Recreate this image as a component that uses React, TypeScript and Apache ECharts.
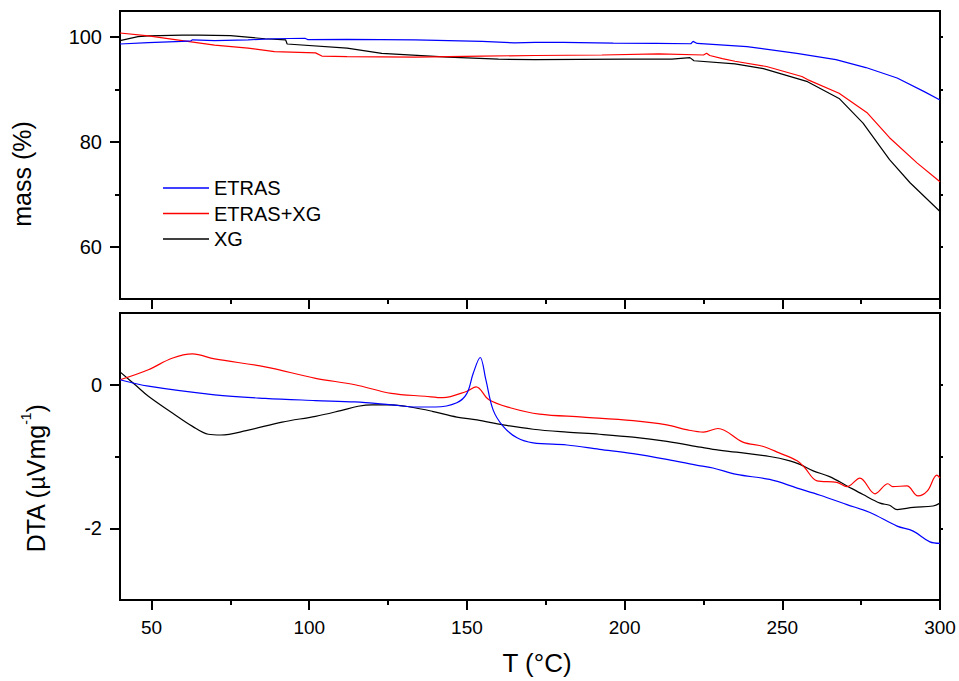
import React, { useEffect, useRef } from "react";
import * as echarts from "echarts";

// ---- tick values ----
const tempTicks = [50, 100, 150, 200, 250, 300];
const tempMinorTicks = [75, 125, 175, 225, 275];
const massTicks = [60, 80, 100];
const massMinorTicks = [70, 90];
const massRightTicks = [60, 70, 80, 90, 100];
const dtaTicks = [-2, 0];
const dtaMinorTicks = [-1];
const dtaRightTicks = [-2, -1, 0];

// ---- series names ----
const seriesNames = ["ETRAS", "ETRAS+XG", "XG"];
const seriesColors = ["#0000ff", "#ff0000", "#000000"];

// ---- mass (%) vs T (°C) ----
const etrasMass: [number, number][] = [
  [40, 98.7], [49, 98.97], [59.7, 99.2], [62.5, 99.3], [63, 99.5], [70, 99.35], [80.6, 99.5],
  [89, 99.7], [98.6, 99.8], [99.5, 99.55], [112, 99.6], [133.5, 99.5], [154.8, 99.2],
  [165.2, 98.9], [171.6, 99.0], [180.5, 99.0], [196.4, 98.85], [210, 98.8], [221, 98.75],
  [221.7, 99.2], [223, 98.8], [238.8, 98.2], [254.6, 96.9], [267, 95.7], [276.5, 94.2],
  [286.4, 92.2], [295, 89.6], [300, 88.0],
];
const etrasXgMass: [number, number][] = [
  [40, 100.8], [49, 100.25], [59.7, 99.35], [70, 98.5], [80.6, 97.9], [89, 97.25],
  [102, 97.0], [104, 96.4], [112, 96.3], [133.5, 96.2], [154.8, 96.4], [171.6, 96.5],
  [192.8, 96.6], [210.8, 96.8], [225, 96.6], [226, 96.95], [227, 96.5], [231, 95.9],
  [235, 95.4], [245, 94.4], [256.2, 92.5], [258, 91.9], [268, 89.3], [277, 85.5],
  [284, 80.8], [292.7, 76.0], [300, 72.4],
];
const xgMass: [number, number][] = [
  [40, 99.35], [45.7, 100.1], [49, 100.25], [59.7, 100.4], [65, 100.4], [75, 100.3],
  [86, 99.7], [92.5, 99.5], [93, 98.7], [112, 97.9], [123, 96.9], [144, 96.2], [160, 95.8],
  [171.6, 95.7], [200, 95.8], [215, 95.8], [220.7, 96.1], [222, 95.5], [235, 94.9],
  [244, 94.0], [258, 91.5], [268, 88.3], [275.6, 83.6], [284, 76.6], [290.5, 72.2],
  [300, 66.7],
];

// ---- DTA (µV/mg) vs T (°C) ----
const etrasDta: [number, number][] = [
  [40, 0.07], [49, -0.02], [70, -0.14], [86, -0.19], [102, -0.22], [114.5, -0.24],
  [126, -0.28], [134, -0.31], [140, -0.31], [146.8, -0.25], [150, -0.12], [152, 0.16],
  [154.2, 0.38], [156, 0.07], [158.3, -0.35], [161.5, -0.58], [165.9, -0.74], [171, -0.81],
  [181.7, -0.84], [192, -0.9], [202.7, -0.96], [213.4, -1.04], [224, -1.13], [228, -1.16],
  [235.5, -1.25], [246, -1.32], [254.7, -1.44], [262, -1.54], [270.5, -1.67], [277.8, -1.78],
  [286.4, -1.97], [291.5, -2.04], [296.8, -2.19], [300, -2.21],
];
const etrasXgDta: [number, number][] = [
  [40, 0.07], [49, 0.21], [56.5, 0.37], [63, 0.43], [70, 0.36], [86, 0.25], [102, 0.09],
  [114.5, 0.0], [126, -0.12], [136.7, -0.16], [142.4, -0.18], [150, -0.09], [152.9, -0.03],
  [157, -0.21], [163.7, -0.32], [173, -0.41], [186.8, -0.45], [202.7, -0.5], [213.4, -0.56],
  [220, -0.63], [225, -0.66], [229.6, -0.61], [237.5, -0.8], [244, -0.86], [249, -0.95],
  [254.7, -1.06], [257, -1.15], [261, -1.34], [267.3, -1.36], [270.5, -1.42], [274.6, -1.3],
  [279.4, -1.52], [283.5, -1.38], [285, -1.42], [289.5, -1.41], [293, -1.55], [296, -1.48],
  [299, -1.26], [300, -1.3],
];
const xgDta: [number, number][] = [
  [40, 0.18], [44.8, 0.0], [49, -0.16], [56.5, -0.39], [63, -0.58], [68, -0.69], [72, -0.7],
  [80, -0.64], [91.4, -0.52], [102, -0.44], [110, -0.36], [115.5, -0.3], [120, -0.28],
  [126, -0.28], [132, -0.31], [139, -0.37], [146.8, -0.45], [153.2, -0.49], [161.5, -0.56],
  [171, -0.62], [181.7, -0.66], [192, -0.69], [202.7, -0.73], [213.4, -0.79], [224, -0.87],
  [228, -0.9], [235.5, -0.94], [246, -1.0], [252.4, -1.06], [255.6, -1.11], [259.8, -1.2],
  [265, -1.28], [270.5, -1.41], [275.6, -1.53], [281, -1.65], [284, -1.68], [286.4, -1.74],
  [291.5, -1.71], [297.8, -1.69], [300, -1.65],
];

const FONT = 'Arial, "Liberation Sans", sans-serif';

export default function App() {
  const ref = useRef<HTMLDivElement>(null);
  useEffect(() => {
    document.body.style.margin = "0";
    if (!ref.current) return;
    const chart = echarts.init(ref.current, undefined, { renderer: "svg" });

    const axisLine = { show: true, onZero: false, lineStyle: { color: "#000", width: 2 } };
    const noLine = { show: false, onZero: false };
    const tick = (values: number[], length: number) => ({
      show: true,
      customValues: values,
      length,
      lineStyle: { color: "#000", width: 2 },
    });
    const xBase = (gridIndex: number) => ({
      type: "value" as const,
      gridIndex,
      min: 40,
      max: 300,
      position: "bottom" as const,
      splitLine: { show: false },
    });
    const yBase = (gridIndex: number, min: number, max: number, position: "left" | "right") => ({
      type: "value" as const,
      gridIndex,
      min,
      max,
      position,
      splitLine: { show: false },
    });

    const massData = [etrasMass, etrasXgMass, xgMass];
    const dtaData = [etrasDta, etrasXgDta, xgDta];

    const series: any[] = [];
    seriesNames.forEach((name, i) => {
      series.push({
        type: "line",
        name,
        xAxisIndex: 0,
        yAxisIndex: 0,
        data: massData[i],
        symbol: "none",
        lineStyle: { color: seriesColors[i], width: 1.2 },
        itemStyle: { color: seriesColors[i] },
        z: 3 - i,
      });
      series.push({
        type: "line",
        name,
        xAxisIndex: 2,
        yAxisIndex: 3,
        data: dtaData[i],
        symbol: "none",
        smooth: 0.35,
        lineStyle: { color: seriesColors[i], width: 1.2 },
        itemStyle: { color: seriesColors[i] },
        z: 3 - i,
      });
    });

    chart.setOption({
      animation: false,
      backgroundColor: "#fff",
      textStyle: { fontFamily: FONT },
      grid: [
        { left: 120, top: 11, width: 820, height: 288, show: true, borderColor: "#000", borderWidth: 2, backgroundColor: "transparent" },
        { left: 120, top: 313, width: 820, height: 287, show: true, borderColor: "#000", borderWidth: 2, backgroundColor: "transparent" },
      ],
      legend: {
        data: seriesNames,
        orient: "vertical",
        left: 163,
        top: 178,
        padding: 0,
        icon: "rect",
        itemWidth: 46,
        itemHeight: 1.3,
        itemGap: 5.5,
        textStyle: { fontSize: 20, color: "#000", fontFamily: FONT, lineHeight: 20 },
      },
      xAxis: [
        {
          ...xBase(0),
          axisLine,
          axisTick: tick(tempTicks, 10),
          axisLabel: { show: false },
        },
        {
          ...xBase(0),
          axisLine: noLine,
          axisTick: tick(tempMinorTicks, 5),
          axisLabel: { show: false },
        },
        {
          ...xBase(1),
          axisLine,
          axisTick: tick(tempTicks, 10),
          axisLabel: { show: true, customValues: tempTicks, fontSize: 19, color: "#000", margin: 18, fontFamily: FONT },
          name: "T (°C)",
          nameLocation: "middle",
          nameGap: 50,
          nameTextStyle: { fontSize: 26, color: "#000", fontFamily: FONT, padding: [0, 0, 0, 14] },
        },
        {
          ...xBase(1),
          axisLine: noLine,
          axisTick: tick(tempMinorTicks, 5),
          axisLabel: { show: false },
        },
      ],
      yAxis: [
        {
          ...yBase(0, 50, 105, "left"),
          axisLine,
          axisTick: tick(massTicks, 10),
          axisLabel: { show: true, customValues: massTicks, fontSize: 20, color: "#000", margin: 18, fontFamily: FONT },
          name: "mass (%)",
          nameLocation: "middle",
          nameGap: 86,
          nameTextStyle: { fontSize: 25, color: "#000", fontFamily: FONT, padding: [0, 38, 0, 0] },
        },
        {
          ...yBase(0, 50, 105, "left"),
          axisLine: noLine,
          axisTick: tick(massMinorTicks, 5),
          axisLabel: { show: false },
        },
        {
          ...yBase(0, 50, 105, "right"),
          axisLine: noLine,
          axisTick: tick(massRightTicks, 3),
          axisLabel: { show: false },
        },
        {
          ...yBase(1, -3, 1, "left"),
          axisLine,
          axisTick: tick(dtaTicks, 10),
          axisLabel: { show: true, customValues: dtaTicks, fontSize: 20, color: "#000", margin: 18, fontFamily: FONT },
          name: "{a|DTA (}{b|µ}{a|Vmg}{s|-1}{a|)}",
          nameLocation: "middle",
          nameGap: 72,
          nameTextStyle: {
            color: "#000",
            fontFamily: FONT,
            padding: [0, 44, 0, 0],
            rich: {
              a: { fontSize: 25, color: "#000", fontFamily: FONT, lineHeight: 29, verticalAlign: "bottom" },
              b: { fontSize: 23, color: "#000", fontFamily: FONT, lineHeight: 29, verticalAlign: "bottom" },
              s: { fontSize: 14, color: "#000", fontFamily: FONT, lineHeight: 29, verticalAlign: "top" },
            },
          },
        },
        {
          ...yBase(1, -3, 1, "left"),
          axisLine: noLine,
          axisTick: tick(dtaMinorTicks, 5),
          axisLabel: { show: false },
        },
        {
          ...yBase(1, -3, 1, "right"),
          axisLine: noLine,
          axisTick: tick(dtaRightTicks, 3),
          axisLabel: { show: false },
        },
      ],
      series,
    });
    return () => chart.dispose();
  }, []);
  return <div ref={ref} style={{ width: 959, height: 681 }} />;
}
